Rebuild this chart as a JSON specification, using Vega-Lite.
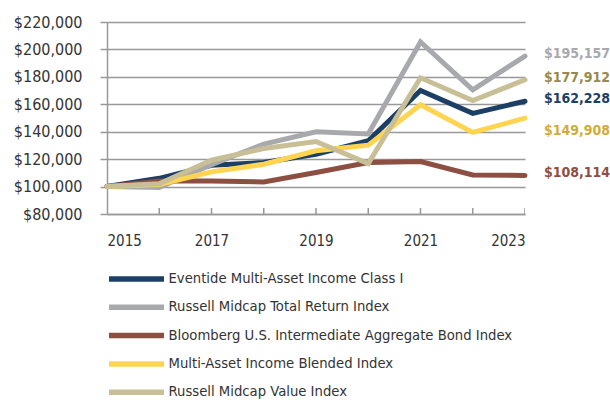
{
  "$schema": "https://vega.github.io/schema/vega-lite/v6.json",
  "autosize": {"type": "none"},
  "width": 418,
  "height": 192,
  "padding": {"left": 107, "top": 22, "right": 85, "bottom": 189},
  "background": "white",
  "config": {
    "view": {"stroke": null},
    "font": "'DejaVu Sans Condensed', Roboto",
    "axis": {"labelFont": "'DejaVu Sans Condensed', Roboto", "labelColor": "#333333"},
    "legend": {"labelFont": "'DejaVu Sans Condensed', Roboto"}
  },
  "data": {
    "values": [
      {"series": "Eventide Multi-Asset Income Class I", "year": 2015, "value": 100000},
      {"series": "Eventide Multi-Asset Income Class I", "year": 2016, "value": 106000},
      {"series": "Eventide Multi-Asset Income Class I", "year": 2017, "value": 115500},
      {"series": "Eventide Multi-Asset Income Class I", "year": 2018, "value": 117500},
      {"series": "Eventide Multi-Asset Income Class I", "year": 2019, "value": 123600},
      {"series": "Eventide Multi-Asset Income Class I", "year": 2020, "value": 133400},
      {"series": "Eventide Multi-Asset Income Class I", "year": 2021, "value": 170000},
      {"series": "Eventide Multi-Asset Income Class I", "year": 2022, "value": 153400},
      {"series": "Eventide Multi-Asset Income Class I", "year": 2023, "value": 162228},
      {"series": "Russell Midcap Total Return Index", "year": 2015, "value": 100000},
      {"series": "Russell Midcap Total Return Index", "year": 2016, "value": 99300},
      {"series": "Russell Midcap Total Return Index", "year": 2017, "value": 116000},
      {"series": "Russell Midcap Total Return Index", "year": 2018, "value": 131000},
      {"series": "Russell Midcap Total Return Index", "year": 2019, "value": 140000},
      {"series": "Russell Midcap Total Return Index", "year": 2020, "value": 138300},
      {"series": "Russell Midcap Total Return Index", "year": 2021, "value": 205400},
      {"series": "Russell Midcap Total Return Index", "year": 2022, "value": 170500},
      {"series": "Russell Midcap Total Return Index", "year": 2023, "value": 195157},
      {"series": "Bloomberg U.S. Intermediate Aggregate Bond Index", "year": 2015, "value": 100000},
      {"series": "Bloomberg U.S. Intermediate Aggregate Bond Index", "year": 2016, "value": 104000},
      {"series": "Bloomberg U.S. Intermediate Aggregate Bond Index", "year": 2017, "value": 104100},
      {"series": "Bloomberg U.S. Intermediate Aggregate Bond Index", "year": 2018, "value": 103400},
      {"series": "Bloomberg U.S. Intermediate Aggregate Bond Index", "year": 2019, "value": 110200},
      {"series": "Bloomberg U.S. Intermediate Aggregate Bond Index", "year": 2020, "value": 117500},
      {"series": "Bloomberg U.S. Intermediate Aggregate Bond Index", "year": 2021, "value": 118200},
      {"series": "Bloomberg U.S. Intermediate Aggregate Bond Index", "year": 2022, "value": 108500},
      {"series": "Bloomberg U.S. Intermediate Aggregate Bond Index", "year": 2023, "value": 108114},
      {"series": "Multi-Asset Income Blended Index", "year": 2015, "value": 100000},
      {"series": "Multi-Asset Income Blended Index", "year": 2016, "value": 101500},
      {"series": "Multi-Asset Income Blended Index", "year": 2017, "value": 110700},
      {"series": "Multi-Asset Income Blended Index", "year": 2018, "value": 116300},
      {"series": "Multi-Asset Income Blended Index", "year": 2019, "value": 126100},
      {"series": "Multi-Asset Income Blended Index", "year": 2020, "value": 130200},
      {"series": "Multi-Asset Income Blended Index", "year": 2021, "value": 159700},
      {"series": "Multi-Asset Income Blended Index", "year": 2022, "value": 139500},
      {"series": "Multi-Asset Income Blended Index", "year": 2023, "value": 149908},
      {"series": "Russell Midcap Value Index", "year": 2015, "value": 100000},
      {"series": "Russell Midcap Value Index", "year": 2016, "value": 102000},
      {"series": "Russell Midcap Value Index", "year": 2017, "value": 119200},
      {"series": "Russell Midcap Value Index", "year": 2018, "value": 127800},
      {"series": "Russell Midcap Value Index", "year": 2019, "value": 132900},
      {"series": "Russell Midcap Value Index", "year": 2020, "value": 116800},
      {"series": "Russell Midcap Value Index", "year": 2021, "value": 179300},
      {"series": "Russell Midcap Value Index", "year": 2022, "value": 162700},
      {"series": "Russell Midcap Value Index", "year": 2023, "value": 177912}
    ]
  },
  "encoding": {
    "x": {
      "field": "year", "type": "quantitative",
      "scale": {"domain": [2015, 2023], "nice": false, "zero": false},
      "axis": {
        "title": null, "grid": false,
        "values": [2015, 2016, 2017, 2018, 2019, 2020, 2021, 2022, 2023],
        "format": "d",
        "labelExpr": "datum.value % 2 == 1 ? datum.label : ''",
        "labelFontSize": 15, "labelPadding": 19,
        "ticks": false,
        "domainColor": "#999999", "domainWidth": 1.5
      }
    },
    "y": {
      "field": "value", "type": "quantitative",
      "scale": {"domain": [80000, 220000], "nice": false, "zero": false},
      "axis": {
        "title": null,
        "values": [80000, 100000, 120000, 140000, 160000, 180000, 200000, 220000],
        "format": "$,.0f",
        "labelFontSize": 16, "labelPadding": 18,
        "tickSize": 7, "tickColor": "#999999", "tickWidth": 1.5,
        "gridColor": "#999999", "gridWidth": 1.5, "gridOpacity": 1,
        "domainColor": "#999999", "domainWidth": 1.5
      }
    }
  },
  "layer": [
    {
      "transform": [{"filter": "datum.series == 'Eventide Multi-Asset Income Class I' && datum.year > 2015"}],
      "mark": {"type": "tick", "orient": "vertical", "size": 12, "thickness": 1.5, "color": "#999999", "clip": true, "opacity": 1},
      "encoding": {
        "y": {"datum": 80000}
      }
    },
    {
      "mark": {"type": "line", "strokeWidth": 5, "strokeCap": "round", "strokeJoin": "miter"},
      "encoding": {
        "color": {
          "field": "series", "type": "nominal",
          "scale": {
            "domain": ["Eventide Multi-Asset Income Class I", "Russell Midcap Total Return Index", "Bloomberg U.S. Intermediate Aggregate Bond Index", "Multi-Asset Income Blended Index", "Russell Midcap Value Index"],
            "range": ["#1c3f66", "#a7a9ac", "#8e4f43", "#ffd450", "#c8bf96"]
          },
          "legend": {
            "title": null, "orient": "none", "legendX": 15.5, "legendY": 243,
            "direction": "vertical",
            "symbolType": "M-2.5,0H2.5", "symbolSize": 484, "symbolStrokeWidth": 5.5,
            "labelFontSize": 14.7, "labelColor": "#333333", "labelOffset": 18,
            "rowPadding": 3.3, "labelLimit": 500
          }
        }
      }
    },
    {
      "transform": [{"filter": "datum.year == 2023 && datum.series != 'Multi-Asset Income Blended Index'"}],
      "mark": {"type": "text", "align": "left", "baseline": "middle", "dx": 19, "dy": -2, "fontSize": 14, "fontWeight": "bold"},
      "encoding": {
        "text": {"field": "value", "type": "quantitative", "format": "$,.0f"},
        "color": {
          "field": "series", "type": "nominal", "legend": null,
          "scale": {
            "domain": ["Eventide Multi-Asset Income Class I", "Russell Midcap Total Return Index", "Bloomberg U.S. Intermediate Aggregate Bond Index", "Multi-Asset Income Blended Index", "Russell Midcap Value Index"],
            "range": ["#1c3f66", "#a7a9ac", "#8e4f43", "#d2ab3a", "#978a4a"]
          }
        }
      }
    },
    {
      "transform": [{"filter": "datum.year == 2023 && datum.series == 'Multi-Asset Income Blended Index'"}],
      "mark": {"type": "text", "align": "left", "baseline": "middle", "dx": 19, "dy": 13, "fontSize": 14, "fontWeight": "bold", "color": "#d2ab3a"},
      "encoding": {
        "text": {"field": "value", "type": "quantitative", "format": "$,.0f"}
      }
    }
  ],
  "resolve": {"scale": {"color": "independent"}}
}
